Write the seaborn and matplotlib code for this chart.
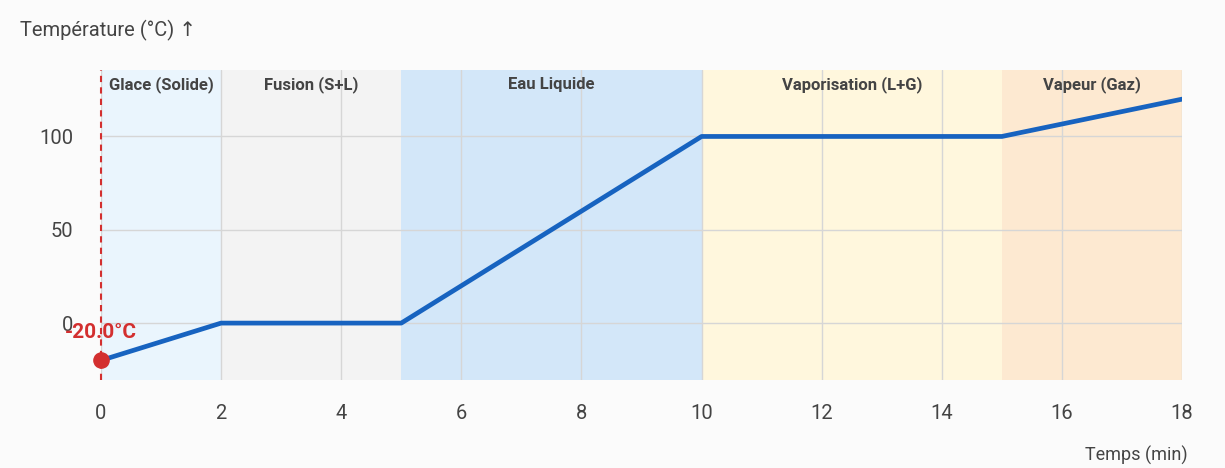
import matplotlib.pyplot as plt
import seaborn as sns
import pandas as pd

sns.set_style("whitegrid")
plt.rcParams["font.family"] = ["Roboto", "DejaVu Sans"]

# courbe de chauffage de l'eau
temps = [0, 2, 5, 10, 15, 18]
temperature = [-20, 0, 0, 100, 100, 120]

phase_noms = ["Glace (Solide)", "Fusion (S+L)", "Eau Liquide", "Vaporisation (L+G)", "Vapeur (Gaz)"]
phase_debut = [0, 2, 5, 10, 15]
phase_fin = [2, 5, 10, 15, 18]
phase_couleurs = ["#eaf5fd", "#f3f3f3", "#d3e7f9", "#fff7dd", "#fde9d1"]

x_ticks = [0, 2, 4, 6, 8, 10, 12, 14, 16, 18]
y_ticks = [0, 50, 100]

df = pd.DataFrame({"temps": temps, "temperature": temperature})

fig = plt.figure(figsize=(12.25, 4.68), dpi=100)
fig.patch.set_facecolor("#fbfbfb")
ax = fig.add_axes([0.0824, 0.188, 0.8826, 0.662])
ax.set_facecolor("white")

for nom, d, f, c in zip(phase_noms, phase_debut, phase_fin, phase_couleurs):
    ax.axvspan(d, f, color=c, zorder=0, lw=0)
    ax.text((d + f) / 2, 0.955, nom, transform=ax.get_xaxis_transform(),
            ha="center", va="center", fontsize=12, fontweight="bold", color="#444444")

sns.lineplot(data=df, x="temps", y="temperature", ax=ax, color="#1763c0",
             linewidth=3.4, zorder=3)

ax.grid(True, color="#d6d6d6", linewidth=1, zorder=1)

ax.axvline(temps[0], color="#d32f2f", linestyle=(0, (3, 2.5)), linewidth=1.5,
           zorder=4, clip_on=False)
ax.scatter([temps[0]], [temperature[0]], s=120, color="#d32f2f", zorder=5, clip_on=False)
ax.annotate(f"{temperature[0]:.1f}°C", (temps[0], temperature[0]),
            xytext=(0, 20), textcoords="offset points", ha="center", va="center",
            fontsize=15, fontweight="bold", color="#d32f2f", zorder=6,
            annotation_clip=False)

ax.set_xlim(0, 18)
ax.set_ylim(-30.5, 135.5)
ax.set_xticks(x_ticks)
ax.set_yticks(y_ticks)
for s in ax.spines.values():
    s.set_visible(False)
ax.tick_params(axis="both", length=0, labelsize=14.5, labelcolor="#444444")
ax.tick_params(axis="x", pad=17)
ax.tick_params(axis="y", pad=20)
ax.set_xlabel("")
ax.set_ylabel("")

fig.text(20 / 1225, 1 - 30 / 468, "Température (°C) ↑", ha="left", va="center",
         fontsize=14.5, color="#444444")
fig.text(1188 / 1225, 1 - 455 / 468, "Temps (min)", ha="right", va="center",
         fontsize=13, color="#444444")

fig.savefig("out.png", dpi=100, facecolor=fig.get_facecolor())
